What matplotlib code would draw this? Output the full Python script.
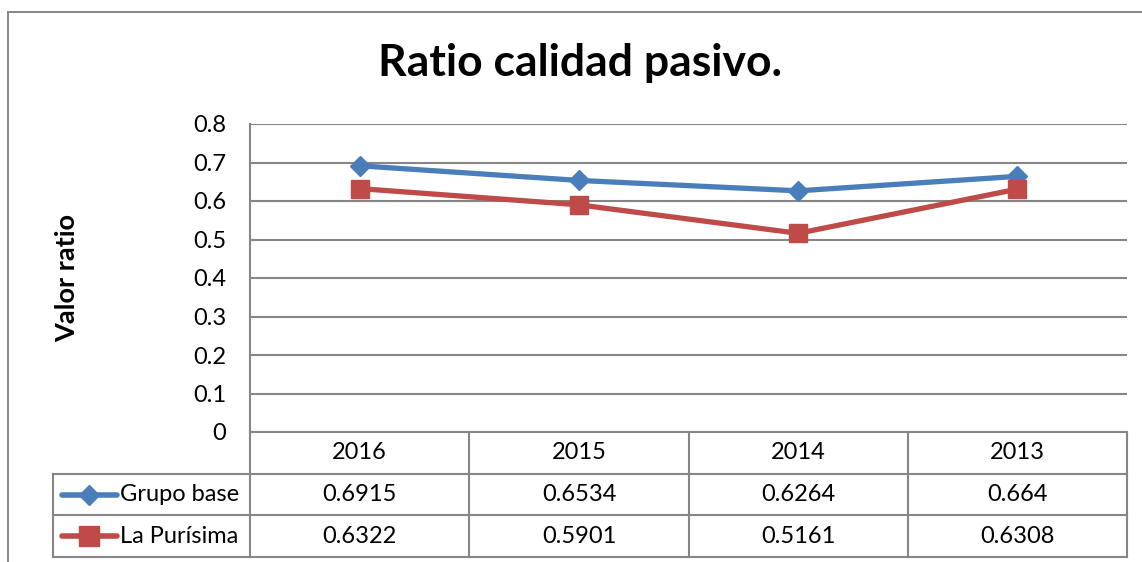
import numpy as np
import matplotlib.pyplot as plt
from matplotlib.lines import Line2D

years = ['2016', '2015', '2014', '2013']
grupo_base = [0.6915, 0.6534, 0.6264, 0.664]
la_purisima = [0.6322, 0.5901, 0.5161, 0.6308]
grupo_labels = ['0.6915', '0.6534', '0.6264', '0.664']
purisima_labels = ['0.6322', '0.5901', '0.5161', '0.6308']
series_names = ['Grupo base', 'La Purísima']

plt.rcParams['font.family'] = ['Lato', 'DejaVu Sans']

W, H = 1142, 562
fig = plt.figure(figsize=(W / 100, H / 100), dpi=100)

blue = '#4A7EBB'
red = '#BE4B48'
grid_c = '#868686'
fs = 17


def px(x0, y0, x1, y1):
    # pixel box -> figure fraction [left, bottom, width, height]
    return [x0 / W, 1 - y1 / H, (x1 - x0) / W, (y1 - y0) / H]


# outer chart frame (only left and top visible in the crop)
frame = fig.add_axes(px(8, 12, 1200, 620))
frame.set_xticks([])
frame.set_yticks([])
for side, s in frame.spines.items():
    s.set_visible(side in ('left', 'top'))
    s.set_color(grid_c)
    s.set_linewidth(1.4)
frame.patch.set_alpha(0)

ax = fig.add_axes(px(250, 124, 1127, 432))
ind = np.arange(len(years)) + 0.5
ax.plot(ind, grupo_base, color=blue, lw=3.8, marker='D', ms=10, zorder=3)
ax.plot(ind, la_purisima, color=red, lw=3.8, marker='s', ms=13, zorder=3)
ax.set_xlim(0, len(years))
ax.set_ylim(0, 0.8)
ticks = np.arange(0, 0.81, 0.1)
ax.set_yticks(ticks)
ax.set_yticklabels(['0' if v == 0 else f'{v:.1f}' for v in ticks], fontsize=fs)
ax.set_xticks([])
ax.grid(axis='y', color=grid_c, lw=1.5)
ax.set_axisbelow(True)
ax.tick_params(axis='y', length=0, pad=17)
for side in ['top', 'right', 'bottom']:
    ax.spines[side].set_visible(False)
ax.spines['left'].set_color(grid_c)
ax.spines['left'].set_linewidth(1.5)
ax.set_ylabel('Valor ratio', fontsize=19.5, fontweight='bold')
ax.yaxis.set_label_coords(-0.195, 0.5)

fig.text(580 / W, 1 - 63 / H, 'Ratio calidad pasivo.', fontsize=32, fontweight='bold',
         ha='center', va='center')

# data table
tb = fig.add_axes(px(53, 432, 1127, 557))
lw_col = 197 / 219
tb.set_xlim(-lw_col, len(years))
tb.set_ylim(3, 0)
tb.axis('off')
tc = dict(color=grid_c, lw=1.5, clip_on=False)
tb.plot([0, len(years)], [0, 0], **tc)
for r in [1, 2, 3]:
    tb.plot([-lw_col, len(years)], [r, r], **tc)
for c in range(len(years) + 1):
    tb.plot([c, c], [0, 3], **tc)
tb.plot([-lw_col, -lw_col], [1, 3], **tc)

for i, y in enumerate(years):
    tb.text(i + 0.5, 0.5, y, ha='center', va='center', fontsize=fs)
for row, labels in enumerate([grupo_labels, purisima_labels]):
    for i, t in enumerate(labels):
        tb.text(i + 0.5, row + 1.5, t, ha='center', va='center', fontsize=fs)

styles = [(blue, 'D', 10), (red, 's', 14)]
for row, (name, (c, m, ms)) in enumerate(zip(series_names, styles)):
    yy = row + 1.5
    x0, x1 = -lw_col + 0.04, -lw_col + 0.29
    tb.add_line(Line2D([x0, x1], [yy, yy], color=c, lw=4, solid_capstyle='round'))
    tb.plot([(x0 + x1) / 2], [yy], marker=m, color=c, ms=ms)
    tb.text(x1 + 0.015, yy, name, ha='left', va='center', fontsize=fs)

fig.savefig('out.png', dpi=100)
